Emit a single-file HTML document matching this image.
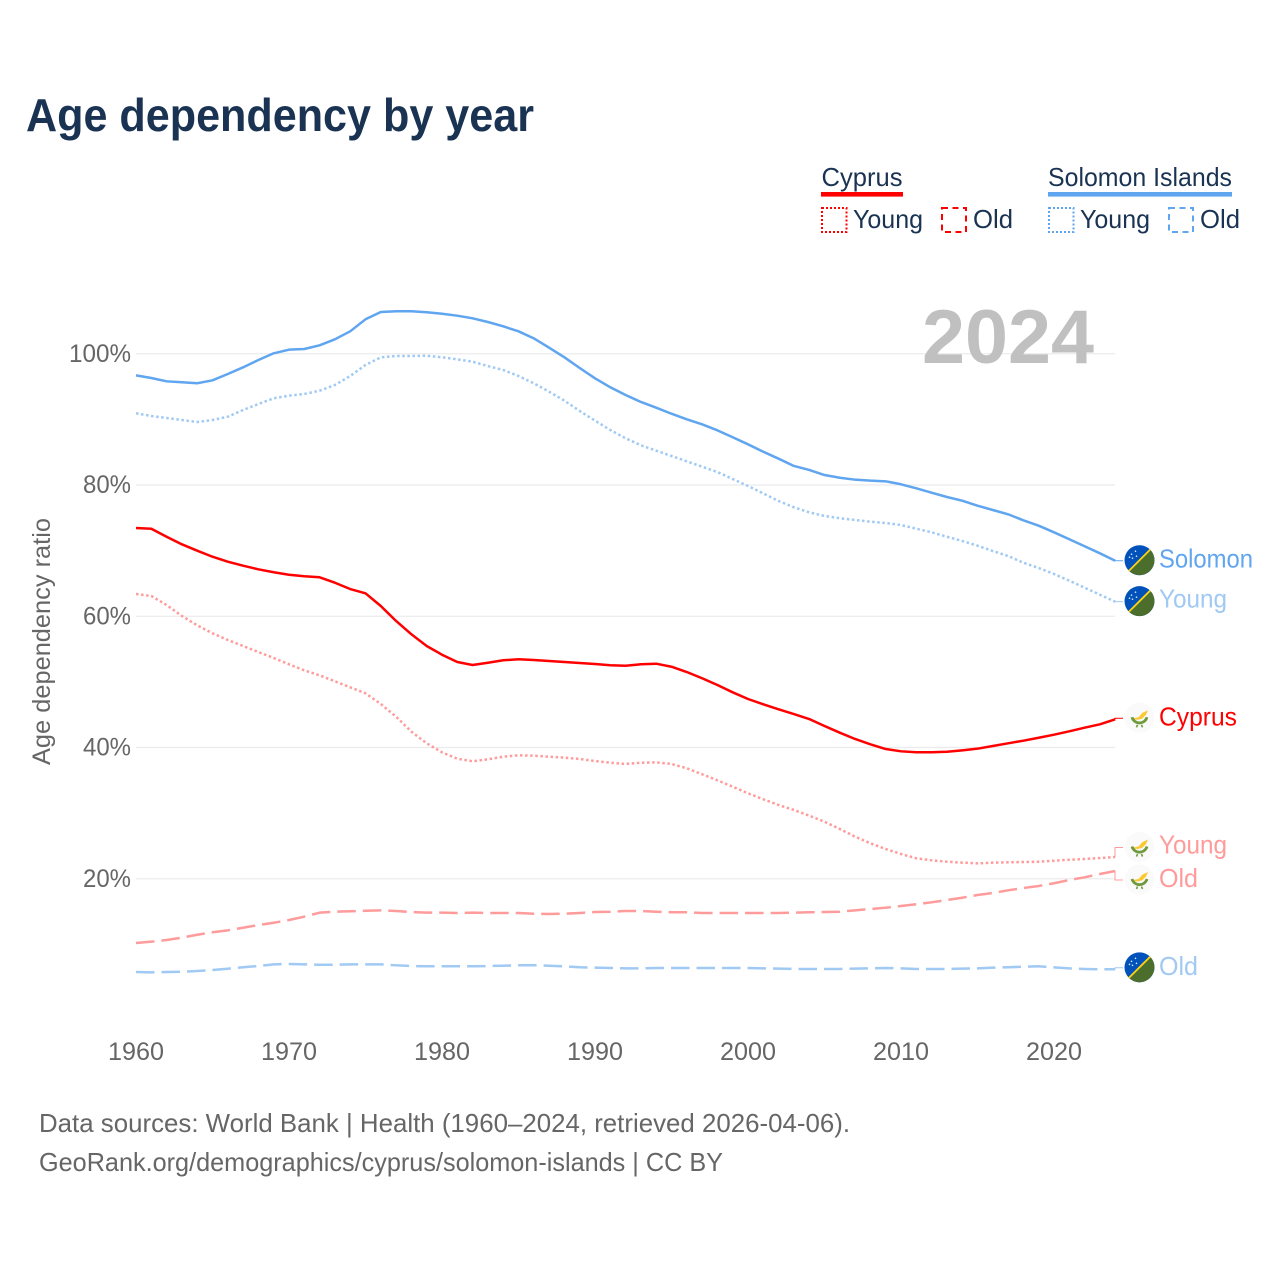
<!DOCTYPE html>
<html lang="en">
<head>
<meta charset="utf-8">
<title>Age dependency by year</title>
<style>
html,body{margin:0;padding:0;background:#fff;}
svg{display:block;font-family:"Liberation Sans",sans-serif;}
</style>
</head>
<body>
<svg id="chart" xmlns="http://www.w3.org/2000/svg" width="1280" height="1280" viewBox="0 0 1280 1280">
  <rect x="0" y="0" width="1280" height="1280" fill="#fff"/>
  <text x="26" y="131" font-size="46" font-weight="bold" fill="#1a3353" textLength="508" lengthAdjust="spacingAndGlyphs">Age dependency by year</text>

  <g font-size="26" fill="#1a3353">
    <text x="821.5" y="186" textLength="81" lengthAdjust="spacingAndGlyphs">Cyprus</text>
    <rect x="821" y="192" width="82" height="4.6" fill="#ff0000"/>
    <rect x="822" y="208" width="24.5" height="24" fill="none" stroke="#ff0000" stroke-width="2" stroke-dasharray="2 2"/>
    <text x="853" y="228" textLength="70" lengthAdjust="spacingAndGlyphs">Young</text>
    <rect x="942" y="208" width="24" height="24" fill="none" stroke="#ff0000" stroke-width="2" stroke-dasharray="6 4.5"/>
    <text x="973" y="228" textLength="40" lengthAdjust="spacingAndGlyphs">Old</text>

    <text x="1048" y="186" textLength="184" lengthAdjust="spacingAndGlyphs">Solomon Islands</text>
    <rect x="1048" y="192" width="184" height="4.6" fill="#60a5ef"/>
    <rect x="1049" y="208" width="24.5" height="24" fill="none" stroke="#60a5ef" stroke-width="2" stroke-dasharray="2 2"/>
    <text x="1080" y="228" textLength="70" lengthAdjust="spacingAndGlyphs">Young</text>
    <rect x="1169" y="208" width="24" height="24" fill="none" stroke="#60a5ef" stroke-width="2" stroke-dasharray="6 4.5"/>
    <text x="1200" y="228" textLength="40" lengthAdjust="spacingAndGlyphs">Old</text>
  </g>

  <g id="grid"></g>
  <text x="922" y="363" font-size="76" font-weight="bold" fill="#c0c0c0" textLength="172" lengthAdjust="spacingAndGlyphs">2024</text>
  <g id="yaxis"></g>
  <g id="xaxis"></g>
  <text transform="translate(50,765) rotate(-90)" x="0" y="0" font-size="25" fill="#666" textLength="247" lengthAdjust="spacingAndGlyphs">Age dependency ratio</text>
  <g id="series"></g>
  <g id="endlabels"></g>

  <g font-size="26" fill="#666">
    <text x="39" y="1132" textLength="811" lengthAdjust="spacingAndGlyphs">Data sources: World Bank | Health (1960–2024, retrieved 2026-04-06).</text>
    <text x="39" y="1171" textLength="684" lengthAdjust="spacingAndGlyphs">GeoRank.org/demographics/cyprus/solomon-islands | CC BY</text>
  </g>
</svg>
<script>
var startYear = 1960;
var xTicks = [1960, 1970, 1980, 1990, 2000, 2010, 2020];
var yTicks = [20, 40, 60, 80, 100];

var solomonTotal = [
  96.71,96.30,95.80,95.65,95.50,95.95,96.91,97.93,99.05,100.07,
  100.62,100.72,101.29,102.20,103.42,105.25,106.36,106.47,106.47,106.32,
  106.10,105.80,105.40,104.84,104.18,103.42,102.35,100.92,99.46,97.83,
  96.26,94.89,93.71,92.65,91.78,90.86,90.01,89.25,88.33,87.27,
  86.20,85.07,84.01,82.90,82.29,81.52,81.11,80.81,80.66,80.56,
  80.11,79.50,78.83,78.17,77.61,76.85,76.19,75.54,74.62,73.80,
  72.79,71.73,70.66,69.59,68.46];
var solomonYoung = [
  90.93,90.51,90.21,89.90,89.60,89.90,90.41,91.43,92.34,93.21,
  93.61,93.87,94.37,95.24,96.61,98.29,99.46,99.66,99.66,99.70,
  99.46,99.15,98.79,98.13,97.52,96.61,95.50,94.22,92.85,91.28,
  89.80,88.38,87.12,86.05,85.23,84.42,83.61,82.79,81.98,80.91,
  79.85,78.71,77.56,76.60,75.84,75.28,74.93,74.67,74.41,74.21,
  73.90,73.34,72.79,72.12,71.47,70.75,69.94,69.18,68.16,67.35,
  66.44,65.42,64.35,63.28,62.22];
var solomonOld = [
  5.79,5.74,5.79,5.84,5.94,6.10,6.29,6.51,6.70,6.96,
  7.01,6.96,6.90,6.90,6.96,6.96,6.96,6.81,6.70,6.66,
  6.66,6.66,6.66,6.70,6.75,6.81,6.81,6.75,6.66,6.51,
  6.45,6.40,6.35,6.35,6.40,6.40,6.40,6.40,6.40,6.40,
  6.40,6.35,6.30,6.25,6.25,6.25,6.25,6.30,6.35,6.40,
  6.35,6.25,6.25,6.25,6.30,6.35,6.45,6.51,6.60,6.66,
  6.50,6.35,6.25,6.20,6.20];
var cyprusTotal = [
  73.45,73.34,72.12,70.96,69.99,69.07,68.31,67.70,67.15,66.70,
  66.33,66.09,65.94,65.11,64.15,63.50,61.56,59.28,57.25,55.47,
  54.14,53.03,52.57,52.92,53.29,53.44,53.33,53.18,53.03,52.88,
  52.72,52.53,52.46,52.68,52.77,52.31,51.50,50.55,49.52,48.41,
  47.39,46.58,45.82,45.10,44.34,43.28,42.26,41.30,40.49,39.77,
  39.42,39.27,39.27,39.36,39.57,39.82,40.23,40.64,41.04,41.49,
  41.95,42.47,43.02,43.53,44.30];
var cyprusYoung = [
  63.39,63.09,61.71,60.04,58.62,57.40,56.38,55.47,54.55,53.64,
  52.68,51.76,51.00,50.09,49.17,48.26,46.63,44.69,42.41,40.64,
  39.27,38.29,37.90,38.20,38.60,38.81,38.75,38.60,38.45,38.25,
  37.94,37.68,37.49,37.68,37.74,37.49,36.83,35.92,35.00,34.03,
  33.02,32.11,31.24,30.48,29.61,28.69,27.58,26.41,25.40,24.53,
  23.77,23.12,22.81,22.60,22.45,22.35,22.45,22.51,22.55,22.60,
  22.75,22.90,23.01,23.16,23.31];
var cyprusOld = [
  10.21,10.41,10.67,11.02,11.47,11.84,12.14,12.54,12.95,13.30,
  13.71,14.22,14.83,14.98,15.04,15.13,15.19,15.09,14.93,14.83,
  14.83,14.78,14.83,14.78,14.78,14.78,14.67,14.63,14.67,14.78,
  14.93,14.98,15.09,15.09,14.98,14.89,14.89,14.78,14.78,14.78,
  14.78,14.78,14.78,14.83,14.89,14.93,14.98,15.19,15.39,15.59,
  15.85,16.11,16.41,16.76,17.11,17.52,17.83,18.24,18.59,18.90,
  19.31,19.81,20.22,20.72,21.18];

var NS = 'http://www.w3.org/2000/svg';
function x(year) { return 136 + (year - 1960) * 15.3; }
function y(val) { return 1010 - val * 6.5625; }
function mk(tag, attrs, parent, text) {
  var el = document.createElementNS(NS, tag);
  for (var k in attrs) el.setAttribute(k, attrs[k]);
  if (text !== undefined) el.textContent = text;
  parent.appendChild(el);
  return el;
}

var RED = '#ff0000', REDL = '#ff9b9b', BLUE = '#60a5ef', BLUEL = '#a0c9f4';
var DOT = '2.5 2.6', DASH = '18.5 7';

var gridG = document.getElementById('grid');
var yG = document.getElementById('yaxis');
var xG = document.getElementById('xaxis');
var seriesG = document.getElementById('series');
var labelG = document.getElementById('endlabels');

yTicks.forEach(function (t) {
  var line = mk('line', {x1: 136, x2: 1115, y1: y(t), y2: y(t), stroke: '#ebebeb', 'stroke-width': 1.2}, gridG);
  
  
  var label = String(t) + '%';
  var lbl = mk('text', {x: 131, y: y(t) + 8, 'font-size': 25, fill: '#666', 'text-anchor': 'end', textLength: t === 100 ? 62 : 48, lengthAdjust: 'spacingAndGlyphs'}, yG, label);
  
  
});

xTicks.forEach(function (t) {
  var lbl = mk('text', {x: x(t) - 28, y: 1060, 'font-size': 25, fill: '#666', textLength: 56, lengthAdjust: 'spacingAndGlyphs'}, xG, String(t));
  
  
});

function drawLine(values, color, dash, name) {
  var d = values.map(function (v, i) {
    return (i ? 'L' : 'M') + x(startYear + i).toFixed(2) + ' ' + y(v).toFixed(2);
  }).join('');
  var attrs = {d: d, fill: 'none', stroke: color, 'stroke-width': 2.5, 'stroke-linejoin': 'round'};
  if (dash) attrs['stroke-dasharray'] = dash;
  var p = mk('path', attrs, seriesG);
  
  
}

drawLine(solomonOld, BLUEL, DASH, 'line-solomon-old');
drawLine(cyprusOld, REDL, DASH, 'line-cyprus-old');
drawLine(cyprusYoung, REDL, DOT, 'line-cyprus-young');
drawLine(cyprusTotal, RED, null, 'line-cyprus-total');
drawLine(solomonYoung, BLUEL, DOT, 'line-solomon-young');
drawLine(solomonTotal, BLUE, null, 'line-solomon-total');

function flagCyprus(g, cx, cy) {
  var c = mk('circle', {cx: cx, cy: cy, r: 15, fill: '#fafafa'}, g);
  
  
  mk('path', {d: 'M' + (cx - 6) + ' ' + (cy + 0.5) + 'l5 -1 4 -4.5 5.5 -2.5 -2 4.5 -4 4 -4.5 1 -4 -0.5z', fill: '#fcc832'}, g);
  mk('path', {d: 'M' + (cx - 7.5) + ' ' + (cy - 0.5) + 'a7.8 7.8 0 0 0 15 0', fill: 'none', stroke: '#6f9a3e', 'stroke-width': 2.8}, g);
  mk('path', {d: 'M' + (cx - 2) + ' ' + (cy + 7) + 'l-1 2.5M' + (cx + 2) + ' ' + (cy + 7) + 'l1 2.5', fill: 'none', stroke: '#6f9a3e', 'stroke-width': 1.6}, g);
}
function flagSolomon(g, cx, cy) {
  var r = 15, k = r * 0.7071;
  var c = mk('circle', {cx: cx, cy: cy, r: r, fill: '#0051ba'}, g);
  
  
  mk('path', {d: 'M' + (cx - k) + ' ' + (cy + k) + 'A' + r + ' ' + r + ' 0 0 0 ' + (cx + k) + ' ' + (cy - k) + 'Z', fill: '#4b6e2c'}, g);
  mk('line', {x1: cx - k, y1: cy + k, x2: cx + k, y2: cy - k, stroke: '#fcd116', 'stroke-width': 1.8}, g);
  [[-8, -6], [-4, -9], [-7, -2], [-3, -4], [-10, -3]].forEach(function (s) {
    mk('circle', {cx: cx + s[0], cy: cy + s[1], r: 0.8, fill: '#dfeaf7'}, g);
  });
}

var endCountry = ['solomon', 'solomon', 'cyprus', 'cyprus', 'cyprus', 'solomon'];
var endText = ['Solomon', 'Young', 'Cyprus', 'Young', 'Old', 'Old'];
var endValues = [solomonTotal, solomonYoung, cyprusTotal, cyprusYoung, cyprusOld, solomonOld];
var endColors = [BLUE, BLUEL, RED, REDL, REDL, BLUEL];
var endWidths = [94, 68, 78, 68, 39, 39];
var endDodge = [0, 0, -1, -9.5, 9, -1.5];
var endBaseline = [7, 6, 7, 6.2, 7, 7];

endText.forEach(function (txt, i) {
  var vals = endValues[i];
  var yEnd = y(vals[vals.length - 1]);
  var yLab = yEnd + endDodge[i];
  var g = mk('g', {}, labelG);
  
  
  var conn = mk('path', {d: 'M1115 ' + yEnd.toFixed(2) + 'V' + yLab.toFixed(2) + 'H1123', fill: 'none', stroke: endColors[i], 'stroke-width': 1}, g);
  
  
  var cx = 1139.5;
  if (endCountry[i] === 'solomon') flagSolomon(g, cx, yLab - 0.5); else flagCyprus(g, cx, yLab - 0.5);
  var t = mk('text', {x: 1159, y: yLab + endBaseline[i], 'font-size': 26, fill: endColors[i], textLength: endWidths[i], lengthAdjust: 'spacingAndGlyphs'}, g, txt);
  
  
});
</script>
</body>
</html>
